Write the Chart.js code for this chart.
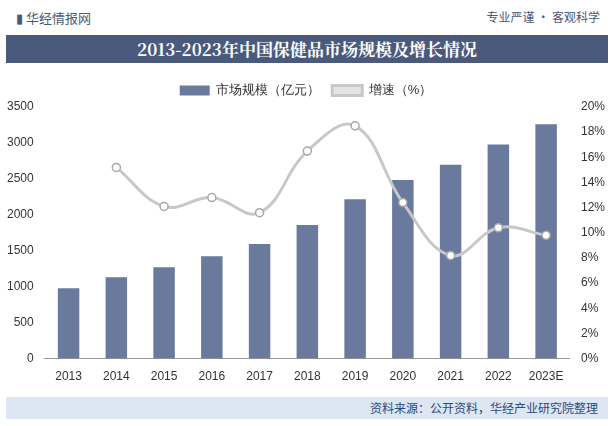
<!DOCTYPE html>
<html><head><meta charset="utf-8">
<script src="https://cdn.jsdelivr.net/npm/chart.js@4"></script>
<style>
body{margin:0;width:614px;height:426px;background:#fff;font-family:"Noto Sans CJK SC",sans-serif;position:relative;overflow:hidden}
#top{position:absolute;left:0;top:0;width:614px;height:34px}
#logo{position:absolute;left:16px;top:8px;font-size:13px;color:#4a5a7a}
#slogan{position:absolute;right:14px;top:8px;font-size:12px;color:#4a5a7a}
#title{position:absolute;left:6px;top:35px;width:602px;height:28px;background:#4a5a7d;color:#fff;font-weight:bold;font-size:17px;text-align:center;line-height:28px;font-family:"Noto Serif CJK SC","Noto Sans CJK SC",serif}
#foot{position:absolute;left:6px;top:397px;width:602px;height:22px;background:#dde6f3;color:#2c4a7a;font-size:12px;text-align:right;line-height:22px;box-sizing:border-box;padding-right:10px}
#wrap{position:absolute;left:0;top:72px;width:614px;height:315px}
</style></head><body>
<div id="top"><div id="logo">▮ 华经情报网</div><div id="slogan">专业严谨 • 客观科学</div></div>
<div id="title">2013-2023年中国保健品市场规模及增长情况</div>
<div id="wrap"><canvas id="c"></canvas></div>
<div id="foot">资料来源：公开资料，华经产业研究院整理</div>
<script>
const years=["2013","2014","2015","2016","2017","2018","2019","2020","2021","2022","2023E"];
const market=[980,1130,1270,1425,1595,1860,2215,2485,2695,2980,3260];
const growth=[null,15.2,12.1,12.8,11.6,16.5,18.5,12.4,8.2,10.4,9.8];
new Chart(document.getElementById('c'),{
data:{labels:years,datasets:[
{type:'bar',label:'市场规模（亿元）',data:market,yAxisID:'y',backgroundColor:'#6a7a9c',categoryPercentage:0.45,barPercentage:1,order:1},
{type:'line',label:'增速（%）',data:growth,yAxisID:'y1',borderColor:'#c8c8c8',borderWidth:3,tension:0.4,pointBackgroundColor:'#fff',pointBorderColor:'#a8a8a8',pointBorderWidth:1.5,pointRadius:4,order:0}
]},
options:{responsive:true,maintainAspectRatio:false,animation:false,locale:'en-US',
layout:{padding:{left:4,right:6,top:0,bottom:0}},
plugins:{legend:{position:'top',labels:{font:{size:13},color:'#333',boxWidth:30,boxHeight:10,padding:12,sort:(a,b)=>a.datasetIndex-b.datasetIndex}},tooltip:{enabled:false}},
scales:{
x:{grid:{display:false},border:{color:'#999'},ticks:{color:'#333',font:{size:12}}},
y:{min:0,max:3500,ticks:{stepSize:500,color:'#333',font:{size:12},callback:v=>String(v)},grid:{display:false},border:{display:false}},
y1:{position:'right',min:0,max:20,ticks:{stepSize:2,color:'#333',font:{size:12},callback:v=>v+'%'},grid:{display:false},border:{display:false}}
}}});
</script>
</body></html>
